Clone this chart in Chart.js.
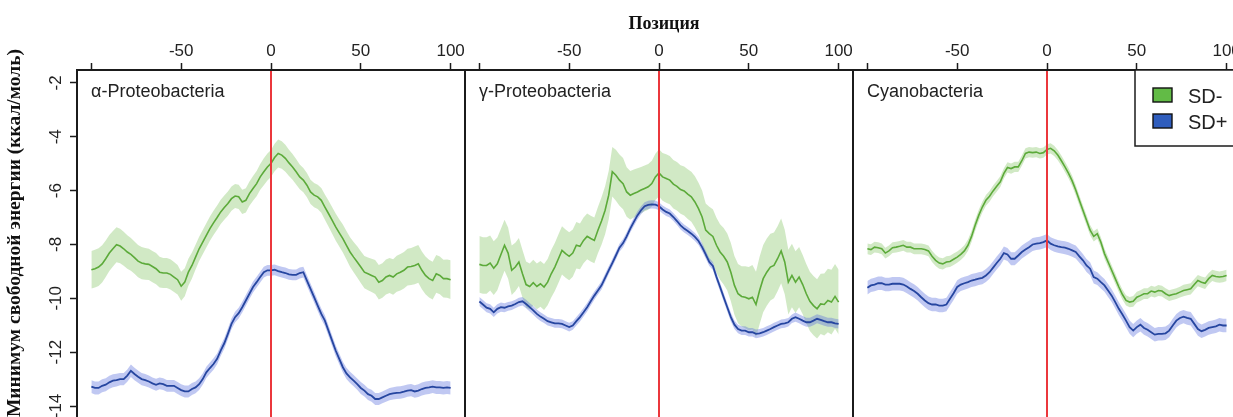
<!DOCTYPE html>
<html>
<head>
<meta charset="utf-8">
<script src="https://cdn.jsdelivr.net/npm/chart.js@4.4.1/dist/chart.umd.min.js"></script>
<style>
  html, body { margin: 0; padding: 0; background: #fff; overflow: hidden; width: 1233px; height: 417px; }
  canvas { position: absolute; top: 0; }
</style>
</head>
<body>
<canvas id="panelAlpha" width="475" height="430" style="left:0px"></canvas>
<canvas id="panelGamma" width="408" height="430" style="left:455px"></canvas>
<canvas id="panelCyano" width="408" height="430" style="left:843px"></canvas>
<script>
// Position relative to the start codon (nt)
const positions = [
  -100,-98,-96,-94,-92,-90,-88,-86,-84,-82,
  -80,-78,-76,-74,-72,-70,-68,-66,-64,-62,
  -60,-58,-56,-54,-52,-50,-48,-46,-44,-42,
  -40,-38,-36,-34,-32,-30,-28,-26,-24,-22,
  -20,-18,-16,-14,-12,-10,-8,-6,-4,-2,
  0,2,4,6,8,10,12,14,16,18,
  20,22,24,26,28,30,32,34,36,38,
  40,42,44,46,48,50,52,54,56,58,
  60,62,64,66,68,70,72,74,76,78,
  80,82,84,86,88,90,92,94,96,98,
  100];

const xTicks = [-100, -50, 0, 50, 100];
const xTickLabels = ['', '-50', '0', '50', '100'];
const yTicks = [-14, -12, -10, -8, -6, -4, -2];
const startPosition = 0;

const seriesNames = ['SD-', 'SD+'];
const panelNames = ['α-Proteobacteria', 'γ-Proteobacteria', 'Cyanobacteria'];
const xTitle = 'Позиция';
const yTitle = 'Минимум свободной энергии (ккал/моль)';

// α-Proteobacteria: mean minimum free energy and error half-width
const alphaMinus = [
  -8.94,-8.90,-8.84,-8.72,-8.53,-8.32,-8.16,-8.01,-8.06,-8.16,
  -8.28,-8.37,-8.49,-8.62,-8.69,-8.72,-8.74,-8.82,-8.90,-9.03,
  -9.06,-9.06,-9.11,-9.21,-9.31,-9.55,-9.40,-9.03,-8.78,-8.47,
  -8.16,-7.91,-7.66,-7.41,-7.20,-7.00,-6.79,-6.63,-6.48,-6.30,
  -6.20,-6.23,-6.42,-6.36,-6.11,-5.92,-5.74,-5.49,-5.30,-5.12,
  -4.99,-4.77,-4.62,-4.68,-4.80,-4.97,-5.12,-5.30,-5.49,-5.61,
  -5.80,-6.05,-6.17,-6.23,-6.36,-6.61,-6.85,-7.10,-7.35,-7.57,
  -7.78,-8.03,-8.28,-8.47,-8.65,-8.84,-9.03,-9.09,-9.15,-9.21,
  -9.40,-9.34,-9.21,-9.15,-9.21,-9.09,-9.03,-8.96,-8.84,-8.82,
  -8.78,-8.72,-8.96,-9.15,-9.27,-9.34,-9.09,-9.15,-9.27,-9.27,
  -9.31];
const alphaMinusErr = [
  .70,.70,.70,.69,.68,.67,.66,.65,.64,.63,
  .62,.61,.60,.60,.60,.59,.58,.58,.58,.57,
  .56,.56,.56,.56,.55,.54,.52,.50,.48,.46,
  .45,.45,.45,.45,.45,.45,.45,.45,.45,.45,
  .45,.45,.45,.45,.45,.46,.47,.48,.50,.50,
  .50,.51,.52,.51,.50,.49,.48,.47,.46,.45,
  .45,.45,.45,.45,.46,.47,.48,.49,.50,.51,
  .52,.53,.55,.56,.58,.59,.60,.61,.62,.63,
  .64,.64,.65,.65,.66,.67,.68,.68,.68,.69,
  .70,.70,.70,.70,.70,.70,.70,.70,.70,.71,
  .72];
const alphaPlus = [
  -13.28,-13.33,-13.33,-13.25,-13.21,-13.12,-13.06,-13.04,-13.00,-13.00,
  -12.87,-12.69,-12.81,-12.91,-13.00,-13.04,-13.09,-13.16,-13.21,-13.16,
  -13.19,-13.25,-13.25,-13.25,-13.33,-13.41,-13.46,-13.46,-13.37,-13.31,
  -13.19,-13.00,-12.75,-12.59,-12.44,-12.25,-11.94,-11.67,-11.32,-10.95,
  -10.70,-10.55,-10.33,-10.08,-9.83,-9.58,-9.40,-9.21,-9.03,-8.96,
  -8.96,-8.94,-8.99,-9.03,-9.06,-9.11,-9.13,-9.13,-9.06,-9.03,
  -9.34,-9.65,-9.96,-10.27,-10.58,-10.83,-11.20,-11.57,-11.94,-12.25,
  -12.56,-12.79,-12.94,-13.06,-13.19,-13.33,-13.43,-13.56,-13.62,-13.74,
  -13.74,-13.68,-13.62,-13.56,-13.53,-13.51,-13.50,-13.47,-13.43,-13.41,
  -13.46,-13.43,-13.37,-13.33,-13.31,-13.28,-13.31,-13.31,-13.33,-13.31,
  -13.33];
const alphaPlusErr = [
  .24,.24,.24,.24,.24,.24,.24,.24,.23,.23,
  .23,.23,.23,.23,.23,.23,.22,.22,.22,.22,
  .22,.22,.22,.22,.22,.22,.22,.22,.22,.22,
  .22,.21,.21,.21,.21,.20,.20,.20,.20,.20,
  .20,.20,.20,.20,.20,.20,.20,.20,.20,.20,
  .20,.20,.20,.20,.20,.20,.20,.20,.20,.20,
  .20,.20,.20,.20,.20,.20,.20,.20,.20,.20,
  .20,.21,.21,.21,.21,.22,.22,.22,.22,.22,
  .22,.22,.22,.23,.23,.23,.23,.23,.23,.23,
  .23,.24,.24,.24,.24,.24,.24,.24,.24,.24,
  .24];

// γ-Proteobacteria
const gammaMinus = [
  -8.74,-8.78,-8.78,-8.69,-8.88,-8.72,-8.37,-8.03,-8.32,-8.96,
  -8.84,-8.65,-9.09,-9.49,-9.56,-9.42,-9.56,-9.46,-9.58,-9.40,
  -9.09,-8.84,-8.53,-8.22,-8.34,-8.44,-8.32,-8.03,-8.07,-7.85,
  -7.70,-7.78,-7.85,-7.47,-7.13,-6.73,-6.17,-5.30,-5.43,-5.61,
  -5.74,-6.05,-6.17,-6.11,-6.05,-5.98,-5.92,-5.86,-5.74,-5.49,
  -5.34,-5.49,-5.55,-5.61,-5.76,-5.84,-5.96,-6.01,-6.13,-6.23,
  -6.42,-6.67,-6.98,-7.47,-7.60,-7.70,-8.03,-8.28,-8.44,-8.65,
  -9.03,-9.52,-9.83,-9.93,-9.96,-10.02,-9.96,-10.23,-9.71,-9.27,
  -9.03,-8.84,-8.78,-8.53,-8.24,-8.65,-9.40,-9.15,-9.40,-9.21,
  -9.49,-9.83,-10.11,-10.27,-10.39,-10.21,-10.23,-10.08,-10.14,-9.93,
  -10.14];
const gammaMinusErr = [
  1.05,1.05,1.05,1.02,1.00,0.98,0.95,0.95,0.95,0.92,
  0.90,0.89,0.88,0.86,0.85,0.85,0.85,0.85,0.85,0.86,
  0.88,0.89,0.90,0.90,0.90,0.89,0.88,0.86,0.85,0.85,
  0.85,0.85,0.85,0.86,0.88,0.89,0.90,0.92,0.95,0.95,
  0.95,0.92,0.90,0.89,0.88,0.86,0.85,0.85,0.85,0.86,
  0.88,0.89,0.90,0.90,0.90,0.90,0.90,0.91,0.92,0.93,
  0.95,0.96,0.98,0.99,1.00,1.01,1.02,1.03,1.05,1.06,
  1.08,1.09,1.10,1.12,1.15,1.18,1.20,1.22,1.25,1.25,
  1.25,1.24,1.22,1.21,1.20,1.20,1.20,1.18,1.15,1.12,
  1.10,1.10,1.10,1.10,1.10,1.12,1.15,1.18,1.20,1.20,
  1.20];
const gammaPlus = [
  -10.12,-10.23,-10.35,-10.39,-10.52,-10.39,-10.33,-10.35,-10.30,-10.27,
  -10.21,-10.14,-10.11,-10.21,-10.33,-10.45,-10.58,-10.68,-10.76,-10.85,
  -10.89,-10.93,-10.93,-10.95,-11.01,-11.07,-11.01,-10.85,-10.70,-10.52,
  -10.33,-10.11,-9.90,-9.71,-9.52,-9.24,-8.96,-8.69,-8.41,-8.12,
  -7.95,-7.70,-7.41,-7.16,-6.92,-6.73,-6.58,-6.53,-6.51,-6.52,
  -6.58,-6.70,-6.79,-6.85,-6.98,-7.13,-7.29,-7.41,-7.50,-7.60,
  -7.72,-7.87,-8.10,-8.37,-8.65,-8.80,-9.21,-9.58,-9.96,-10.33,
  -10.70,-10.98,-11.14,-11.20,-11.20,-11.26,-11.26,-11.32,-11.30,-11.26,
  -11.20,-11.14,-11.07,-11.01,-10.95,-10.93,-10.89,-10.76,-10.70,-10.76,
  -10.83,-10.89,-10.89,-10.83,-10.76,-10.80,-10.85,-10.89,-10.89,-10.93,
  -10.95];
const gammaPlusErr = [
  .17,.17,.17,.17,.17,.17,.17,.17,.16,.16,
  .16,.16,.16,.16,.16,.16,.16,.16,.16,.16,
  .16,.16,.16,.16,.16,.16,.16,.16,.16,.16,
  .16,.16,.15,.15,.15,.15,.15,.15,.15,.15,
  .15,.15,.15,.15,.15,.15,.15,.15,.15,.15,
  .15,.15,.15,.15,.15,.15,.15,.15,.15,.15,
  .15,.15,.15,.15,.15,.15,.16,.16,.16,.16,
  .16,.16,.16,.16,.16,.16,.16,.16,.16,.16,
  .16,.16,.16,.16,.16,.16,.16,.16,.17,.17,
  .17,.17,.17,.17,.17,.17,.17,.17,.17,.17,
  .17];

// Cyanobacteria
const cyanoMinus = [
  -8.16,-8.19,-8.10,-8.12,-8.16,-8.32,-8.24,-8.12,-8.10,-8.07,
  -8.03,-8.10,-8.10,-8.16,-8.16,-8.16,-8.19,-8.24,-8.44,-8.59,
  -8.69,-8.72,-8.65,-8.63,-8.55,-8.47,-8.37,-8.24,-8.03,-7.70,
  -7.29,-6.92,-6.61,-6.36,-6.21,-6.01,-5.84,-5.67,-5.36,-5.14,
  -5.18,-5.12,-5.12,-4.89,-4.62,-4.57,-4.59,-4.57,-4.62,-4.59,
  -4.47,-4.43,-4.52,-4.68,-4.89,-5.12,-5.36,-5.64,-5.98,-6.36,
  -6.73,-7.10,-7.47,-7.70,-7.60,-7.92,-8.34,-8.65,-8.96,-9.27,
  -9.58,-9.86,-10.08,-10.14,-10.11,-9.96,-9.90,-9.83,-9.83,-9.73,
  -9.77,-9.71,-9.73,-9.83,-9.90,-9.86,-9.83,-9.77,-9.71,-9.68,
  -9.65,-9.49,-9.34,-9.40,-9.44,-9.27,-9.15,-9.19,-9.21,-9.19,
  -9.15];
const cyanoMinusErr = [
  .20,.20,.20,.20,.20,.20,.20,.20,.20,.20,
  .20,.20,.20,.20,.20,.20,.20,.20,.21,.21,
  .21,.21,.21,.21,.21,.21,.21,.21,.21,.21,
  .21,.21,.20,.20,.20,.20,.20,.20,.19,.19,
  .19,.19,.19,.19,.19,.19,.19,.19,.19,.19,
  .19,.19,.19,.19,.19,.19,.19,.19,.19,.19,
  .19,.19,.19,.19,.19,.19,.19,.19,.19,.19,
  .19,.19,.19,.19,.20,.20,.20,.20,.20,.20,
  .20,.20,.20,.20,.20,.20,.20,.20,.21,.21,
  .21,.21,.21,.21,.21,.21,.21,.21,.21,.21,
  .21];
const cyanoPlus = [
  -9.61,-9.52,-9.49,-9.44,-9.44,-9.49,-9.49,-9.46,-9.46,-9.46,
  -9.49,-9.56,-9.65,-9.73,-9.83,-9.96,-10.08,-10.18,-10.23,-10.23,
  -10.27,-10.27,-10.23,-10.02,-9.81,-9.58,-9.49,-9.44,-9.40,-9.34,
  -9.31,-9.27,-9.24,-9.15,-9.03,-8.86,-8.69,-8.53,-8.32,-8.37,
  -8.53,-8.53,-8.41,-8.28,-8.19,-8.10,-8.00,-7.97,-7.95,-7.91,
  -7.85,-7.97,-8.03,-8.07,-8.10,-8.12,-8.16,-8.22,-8.28,-8.44,
  -8.59,-8.78,-8.90,-9.21,-9.27,-9.40,-9.52,-9.71,-9.90,-10.14,
  -10.39,-10.60,-10.83,-11.07,-11.20,-11.07,-10.98,-11.10,-11.17,-11.26,
  -11.35,-11.32,-11.32,-11.30,-11.20,-11.01,-10.83,-10.73,-10.68,-10.73,
  -10.76,-10.95,-11.14,-11.22,-11.17,-11.10,-11.07,-11.04,-10.98,-11.01,
  -11.01];
const cyanoPlusErr = [
  .25,.25,.25,.25,.25,.25,.25,.25,.25,.25,
  .25,.25,.25,.25,.25,.25,.25,.25,.25,.25,
  .25,.25,.25,.25,.25,.25,.24,.24,.24,.24,
  .24,.24,.24,.24,.24,.24,.24,.24,.24,.24,
  .24,.24,.24,.24,.24,.24,.24,.24,.24,.24,
  .24,.24,.24,.24,.24,.24,.24,.24,.24,.24,
  .24,.24,.24,.24,.24,.24,.24,.24,.24,.24,
  .24,.24,.25,.25,.25,.25,.25,.25,.25,.25,
  .25,.25,.25,.25,.25,.25,.25,.25,.25,.25,
  .25,.25,.25,.25,.25,.25,.25,.25,.25,.25,
  .25];

// Styling
const GREEN_LINE = 'rgb(92,170,58)';
const GREEN_BAND = 'rgba(140,200,110,0.40)';
const BLUE_LINE = 'rgb(38,70,160)';
const BLUE_BAND = 'rgba(90,110,220,0.38)';
const LEGEND_FILLS = ['rgb(98,187,70)', 'rgb(47,93,189)'];
const RED_LINE = 'rgb(235,55,60)';
const INK = '#1b1b1b';
const SANS = '"Liberation Sans", Arial, sans-serif';
const SERIF = '"Liberation Serif", "Times New Roman", serif';

// Visible value window of every panel (the lower frame edge sits just below the page)
const X_MIN = -108, X_MAX = 108;
const Y_MIN = -14.52, Y_MAX = -1.52;

const toPoints = (vals) => vals.map((v, i) => ({ x: positions[i], y: v }));
const offsetPoints = (vals, err, sign) => vals.map((v, i) => ({ x: positions[i], y: v + sign * err[i] }));

// Frame, start-position marker, panel name and shared titles/legend
const panelDecor = {
  id: 'panelDecor',
  afterDatasetsDraw(chart, args, opts) {
    const { ctx, chartArea: a } = chart;
    const xs = chart.scales.x;
    const px = xs.getPixelForValue(startPosition);
    ctx.save();
    ctx.strokeStyle = RED_LINE;
    ctx.lineWidth = 2;
    ctx.beginPath();
    ctx.moveTo(px, a.top);
    ctx.lineTo(px, a.bottom);
    ctx.stroke();

    ctx.strokeStyle = INK;
    ctx.lineWidth = 2;
    ctx.strokeRect(a.left, a.top, a.right - a.left, a.bottom - a.top);

    ctx.fillStyle = '#222';
    ctx.font = '18px ' + SANS;
    ctx.textAlign = 'left';
    ctx.textBaseline = 'alphabetic';
    ctx.fillText(opts.name, a.left + 14, 97);

    if (opts.yTitle) {
      ctx.save();
      ctx.font = 'bold 19.5px ' + SERIF;
      ctx.fillStyle = '#111';
      ctx.translate(15, 233);
      ctx.rotate(-Math.PI / 2);
      ctx.textAlign = 'center';
      ctx.textBaseline = 'middle';
      ctx.fillText(opts.yTitle, 0, 0);
      ctx.restore();
    }
    if (opts.xTitle) {
      ctx.font = 'bold 18px ' + SERIF;
      ctx.fillStyle = '#111';
      ctx.textAlign = 'center';
      ctx.textBaseline = 'alphabetic';
      ctx.fillText(opts.xTitle, px + 5, 29);
    }
    if (opts.legend) {
      const lines = chart.data.datasets.filter(d => seriesNames.includes(d.label));
      const bx = a.right - 106, by = a.top, bh = 76;
      ctx.fillStyle = '#fff';
      ctx.fillRect(bx, by, a.right - bx, bh);
      ctx.strokeStyle = INK;
      ctx.lineWidth = 1.5;
      ctx.strokeRect(bx, by, a.right - bx, bh);
      ctx.font = '20px ' + SANS;
      ctx.textAlign = 'left';
      lines.forEach((d, i) => {
        const y = by + 18 + i * 26;
        ctx.fillStyle = LEGEND_FILLS[seriesNames.indexOf(d.label)];
        ctx.fillRect(bx + 18, y, 19, 14);
        ctx.strokeStyle = '#111';
        ctx.lineWidth = 1.4;
        ctx.strokeRect(bx + 18, y, 19, 14);
        ctx.fillStyle = '#222';
        ctx.fillText(d.label, bx + 53, y + 15);
      });
    }
    ctx.restore();
  }
};

function makePanel(canvasId, name, minus, minusErr, plus, plusErr, extra) {
  const showY = !!extra.showY;
  return new Chart(document.getElementById(canvasId), {
    type: 'line',
    data: {
      datasets: [
        { label: 'SD- upper', data: offsetPoints(minus, minusErr, 1), fill: '+1', backgroundColor: GREEN_BAND, borderWidth: 0, pointRadius: 0, order: 3 },
        { label: 'SD- lower', data: offsetPoints(minus, minusErr, -1), fill: false, borderWidth: 0, pointRadius: 0, order: 3 },
        { label: 'SD+ upper', data: offsetPoints(plus, plusErr, 1), fill: '+1', backgroundColor: BLUE_BAND, borderWidth: 0, pointRadius: 0, order: 2 },
        { label: 'SD+ lower', data: offsetPoints(plus, plusErr, -1), fill: false, borderWidth: 0, pointRadius: 0, order: 2 },
        { label: seriesNames[0], data: toPoints(minus), borderColor: GREEN_LINE, borderWidth: 1.6, pointRadius: 0, fill: false, order: 1 },
        { label: seriesNames[1], data: toPoints(plus), borderColor: BLUE_LINE, borderWidth: 1.8, pointRadius: 0, fill: false, order: 0 }
      ]
    },
    options: {
      responsive: false,
      devicePixelRatio: 1,
      animation: false,
      events: [],
      layout: { padding: { left: showY ? 0 : 10, right: 10, top: 0, bottom: 10 } },
      plugins: {
        legend: { display: false },
        tooltip: { enabled: false },
        panelDecor: { name: name, yTitle: extra.yTitle, xTitle: extra.xTitle, legend: extra.legend }
      },
      scales: {
        x: {
          type: 'linear',
          position: 'top',
          min: X_MIN, max: X_MAX,
          afterBuildTicks: (s) => { s.ticks = xTicks.map(v => ({ value: v })); },
          afterFit: (s) => { s.height = 70; },
          ticks: {
            autoSkip: false, maxRotation: 0, minRotation: 0, padding: 1,
            color: '#222', font: { family: SANS, size: 17 },
            callback: (v, i) => xTickLabels[i]
          },
          grid: { drawOnChartArea: false, drawTicks: true, tickLength: 7, tickColor: INK, tickWidth: 1.5 },
          border: { display: false }
        },
        y: {
          type: 'linear',
          display: showY,
          min: Y_MIN, max: Y_MAX,
          afterBuildTicks: (s) => { s.ticks = yTicks.map(v => ({ value: v })); },
          afterFit: (s) => { s.width = showY ? 77 : 0; },
          ticks: {
            autoSkip: false, minRotation: 90, maxRotation: 90, crossAlign: 'center', padding: 1,
            color: '#222', font: { family: SANS, size: 17, lineHeight: 1 }
          },
          grid: { drawOnChartArea: false, drawTicks: true, tickLength: 7, tickColor: INK, tickWidth: 1.5 },
          border: { display: false }
        }
      }
    },
    plugins: [panelDecor]
  });
}

makePanel('panelAlpha', panelNames[0], alphaMinus, alphaMinusErr, alphaPlus, alphaPlusErr, { showY: true, yTitle: yTitle });
makePanel('panelGamma', panelNames[1], gammaMinus, gammaMinusErr, gammaPlus, gammaPlusErr, { xTitle: xTitle });
makePanel('panelCyano', panelNames[2], cyanoMinus, cyanoMinusErr, cyanoPlus, cyanoPlusErr, { legend: true });
</script>
</body>
</html>
